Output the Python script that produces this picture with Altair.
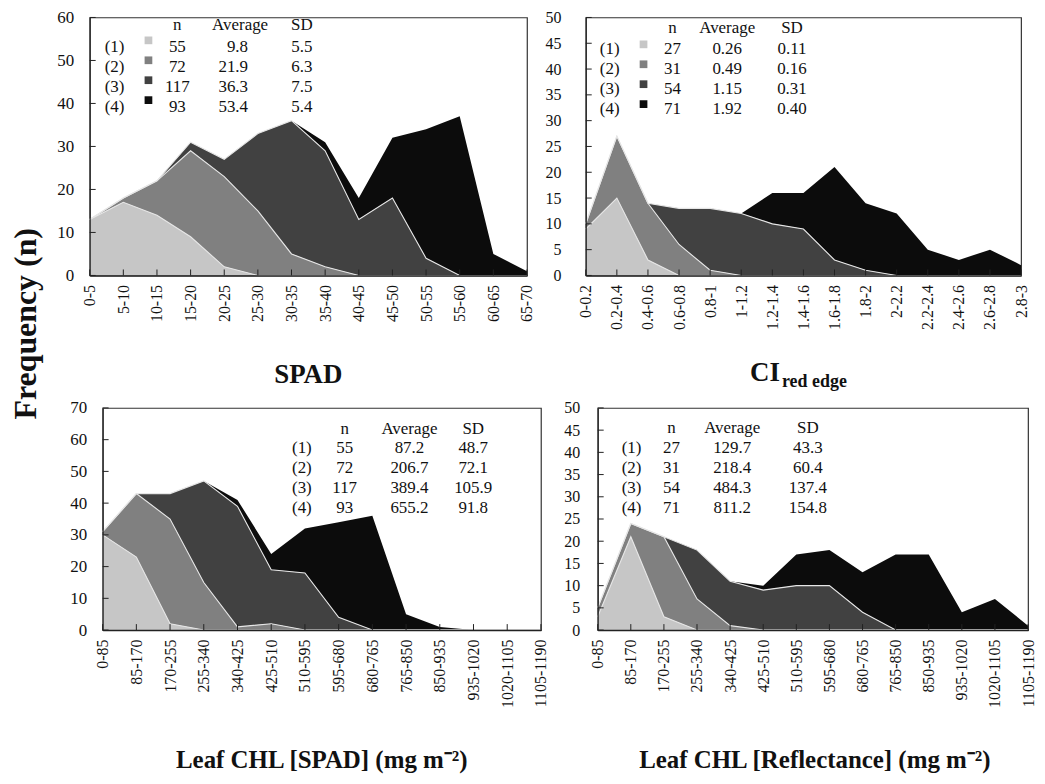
import altair as alt
import pandas as pd

FONT = "Liberation Serif"
GROUPS = ["(1)", "(2)", "(3)", "(4)"]
GREYS = ["#c6c6c6", "#808080", "#414141", "#0c0c0c"]

# ---------------- data ----------------
spad_bins = ["0-5", "5-10", "10-15", "15-20", "20-25", "25-30", "30-35", "35-40",
             "40-45", "45-50", "50-55", "55-60", "60-65", "65-70"]
spad_g1 = [13, 17, 14, 9, 2, 0, 0, 0, 0, 0, 0, 0, 0, 0]
spad_g2 = [0, 1, 8, 20, 21, 15, 5, 2, 0, 0, 0, 0, 0, 0]
spad_g3 = [0, 0, 0, 2, 4, 18, 31, 27, 13, 18, 4, 0, 0, 0]
spad_g4 = [0, 0, 0, 0, 0, 0, 0, 2, 5, 14, 30, 37, 5, 1]
spad_n = ["55", "72", "117", "93"]
spad_avg = ["9.8", "21.9", "36.3", "53.4"]
spad_sd = ["5.5", "6.3", "7.5", "5.4"]

ci_bins = ["0-0.2", "0.2-0.4", "0.4-0.6", "0.6-0.8", "0.8-1", "1-1.2", "1.2-1.4",
           "1.4-1.6", "1.6-1.8", "1.8-2", "2-2.2", "2.2-2.4", "2.4-2.6", "2.6-2.8", "2.8-3"]
ci_g1 = [9, 15, 3, 0, 0, 0, 0, 0, 0, 0, 0, 0, 0, 0, 0]
ci_g2 = [1, 12, 11, 6, 1, 0, 0, 0, 0, 0, 0, 0, 0, 0, 0]
ci_g3 = [0, 0, 0, 7, 12, 12, 10, 9, 3, 1, 0, 0, 0, 0, 0]
ci_g4 = [0, 0, 0, 0, 0, 0, 6, 7, 18, 13, 12, 5, 3, 5, 2]
ci_n = ["27", "31", "54", "71"]
ci_avg = ["0.26", "0.49", "1.15", "1.92"]
ci_sd = ["0.11", "0.16", "0.31", "0.40"]

chl_bins = ["0-85", "85-170", "170-255", "255-340", "340-425", "425-510", "510-595",
            "595-680", "680-765", "765-850", "850-935", "935-1020", "1020-1105", "1105-1190"]
chls_g1 = [30, 23, 2, 0, 0, 0, 0, 0, 0, 0, 0, 0, 0, 0]
chls_g2 = [1, 20, 33, 15, 1, 2, 0, 0, 0, 0, 0, 0, 0, 0]
chls_g3 = [0, 0, 8, 32, 38, 17, 18, 4, 0, 0, 0, 0, 0, 0]
chls_g4 = [0, 0, 0, 0, 2, 5, 14, 30, 36, 5, 1, 0, 0, 0]
chls_n = ["55", "72", "117", "93"]
chls_avg = ["87.2", "206.7", "389.4", "655.2"]
chls_sd = ["48.7", "72.1", "105.9", "91.8"]

chlr_g1 = [3, 21, 3, 0, 0, 0, 0, 0, 0, 0, 0, 0, 0, 0]
chlr_g2 = [2, 3, 18, 7, 1, 0, 0, 0, 0, 0, 0, 0, 0, 0]
chlr_g3 = [0, 0, 0, 11, 10, 9, 10, 10, 4, 0, 0, 0, 0, 0]
chlr_g4 = [0, 0, 0, 0, 0, 1, 7, 8, 9, 17, 17, 4, 7, 1]
chlr_n = ["27", "31", "54", "71"]
chlr_avg = ["129.7", "218.4", "484.3", "811.2"]
chlr_sd = ["43.3", "60.4", "137.4", "154.8"]


def long_df(bins, series):
    rows = []
    cum = [0] * len(bins)
    for gi, vals in enumerate(series):
        for i, (b, v) in enumerate(zip(bins, vals)):
            rows.append({"bin": b, "group": GROUPS[gi], "g": gi,
                         "lo": cum[i], "hi": cum[i] + v})
        cum = [c + v for c, v in zip(cum, vals)]
    return pd.DataFrame(rows)


ONE = pd.DataFrame({"d": [0]})


def txt(text, x, y, size=17, weight="normal", align="center", baseline="alphabetic",
        line_height=20):
    return alt.Chart(ONE).mark_text(
        text=text, font=FONT, fontSize=size, fontWeight=weight, align=align,
        baseline=baseline, color="#111", lineHeight=line_height,
    ).encode(x=alt.value(x), y=alt.value(y))


def panel(bins, series, ymax, ystep, w, h, ylab_size, label_pad, table, squares, extras):
    df = long_df(bins, series)
    xscale = alt.Scale(type="point", padding=0)
    xaxis = alt.Axis(title=None, labelAngle=270, labelPadding=9, ticks=False,
                     labelFont=FONT, labelFontSize=16, labelColor="#111",
                     domainColor="#222", domainWidth=1.6, labelFlush=False, zindex=1)
    yscale = alt.Scale(domain=[0, ymax], nice=False, zero=True)
    yvals = list(range(0, ymax + 1, ystep))
    yaxis = alt.Axis(title=None, values=yvals, ticks=False, grid=False, labelFont=FONT,
                     labelFontSize=ylab_size, labelPadding=label_pad, labelColor="#111",
                     domainColor="#222", domainWidth=1.2, labelFlush=False, zindex=1)
    xenc = alt.X("bin:N", sort=bins, scale=xscale, axis=xaxis)
    yenc = alt.Y("hi:Q", scale=yscale, axis=yaxis)

    base = alt.Chart(df)
    area = base.mark_area(interpolate="linear").encode(
        x=xenc, y=yenc, y2="lo:Q",
        color=alt.Color("group:N", scale=alt.Scale(domain=GROUPS, range=GREYS), legend=None),
    )
    lines = base.transform_filter("datum.g < 3").mark_line(
        color="#e6e6e6", strokeWidth=1.1).encode(x=xenc, y=yenc, detail="group:N")

    xt = alt.Chart(pd.DataFrame({"bin": bins})).mark_rule(color="#222", strokeWidth=1).encode(
        x=xenc, y=alt.value(h), y2=alt.value(h - 6))
    yt = alt.Chart(pd.DataFrame({"hi": yvals})).mark_rule(color="#222", strokeWidth=1).encode(
        y=alt.Y("hi:Q", scale=yscale, axis=yaxis), x=alt.value(0), x2=alt.value(6))

    layers = [area, lines, xt, yt]
    (lab_x, n_x, avg_x, avg_align, sd_x, head_y, row_y, vals) = table
    n_vals, avg_vals, sd_vals = vals
    layers.append(txt("n", n_x, head_y))
    layers.append(txt("Average", avg_x if avg_align == "center" else avg_x - 8, head_y))
    layers.append(txt("SD", sd_x, head_y))
    layers.append(txt(GROUPS, lab_x, row_y))
    layers.append(txt(n_vals, n_x, row_y))
    layers.append(txt(avg_vals, avg_x, row_y, align=avg_align))
    layers.append(txt(sd_vals, sd_x, row_y))
    if squares is not None:
        sq_x, sq_y = squares
        for i, c in enumerate(GREYS):
            layers.append(alt.Chart(ONE).mark_square(size=60, color=c, opacity=1).encode(
                x=alt.value(sq_x), y=alt.value(sq_y + 20 * i)))
    layers.extend(extras)
    return alt.layer(*layers).properties(width=w, height=h)


# top-left: SPAD
W1, H1 = 439, 259
tl = panel(
    spad_bins, [spad_g1, spad_g2, spad_g3, spad_g4], 60, 10, W1, H1, 17, 16,
    (25, 88, 159, "right", 213, 13, 35, (spad_n, spad_avg, spad_sd)),
    (59, 23),
    [txt("SPAD", W1 / 2, 367, size=27, weight="bold")],
)

# top-right: CI red edge
W2, H2 = 437, 259
tr = panel(
    ci_bins, [ci_g1, ci_g2, ci_g3, ci_g4], 50, 5, W2, H2, 16, 25,
    (24, 87, 142, "center", 207, 16, 37, (ci_n, ci_avg, ci_sd)),
    (58, 27),
    [txt("CI", 195, 365, size=27, weight="bold", align="right"),
     txt("red edge", 197, 371, size=18, weight="bold", align="left")],
)

# bottom-left: Leaf CHL [SPAD]
W3, H3 = 440, 223
bl = panel(
    chl_bins, [chls_g1, chls_g2, chls_g3, chls_g4], 70, 10, W3, H3, 17, 16,
    (200, 243, 308, "center", 372, 26, 45, (chls_n, chls_avg, chls_sd)),
    None,
    [txt("Leaf CHL [SPAD] (mg m\u207b\u00b2)", W3 / 2, 361, size=25, weight="bold")],
)

# bottom-right: Leaf CHL [Reflectance]
W4, H4 = 432, 223
br = panel(
    chl_bins, [chlr_g1, chlr_g2, chlr_g3, chlr_g4], 50, 5, W4, H4, 16, 18,
    (34, 74, 135, "center", 211, 25, 45, (chlr_n, chlr_avg, chlr_sd)),
    None,
    [txt("Leaf CHL [Reflectance] (mg m\u207b\u00b2)", W4 / 2 + 2, 361, size=25,
         weight="bold")],
)


def spacer(w):
    return alt.Chart(ONE).mark_point(size=0.1, opacity=0).encode(
        x=alt.value(0.5), y=alt.value(0.5)).properties(
        width=w, height=1, view={"stroke": "transparent"})


row1 = alt.hconcat(spacer(1), tl, tr, spacing=8)
row2 = alt.hconcat(spacer(9), bl, br, spacing=13)
chart = alt.vconcat(row1, row2, spacing=6).properties(
    title=alt.TitleParams(text="Frequency (n)", orient="left", anchor="middle",
                          frame="bounds", font=FONT, fontSize=32, fontWeight="bold",
                          color="#111", offset=2, dx=67),
    padding={"left": 2, "top": -2, "right": 0, "bottom": 0},
).configure_view(stroke="#333", strokeWidth=1.2)

chart.save("out.html", embed_options={"renderer": "svg", "actions": False})
